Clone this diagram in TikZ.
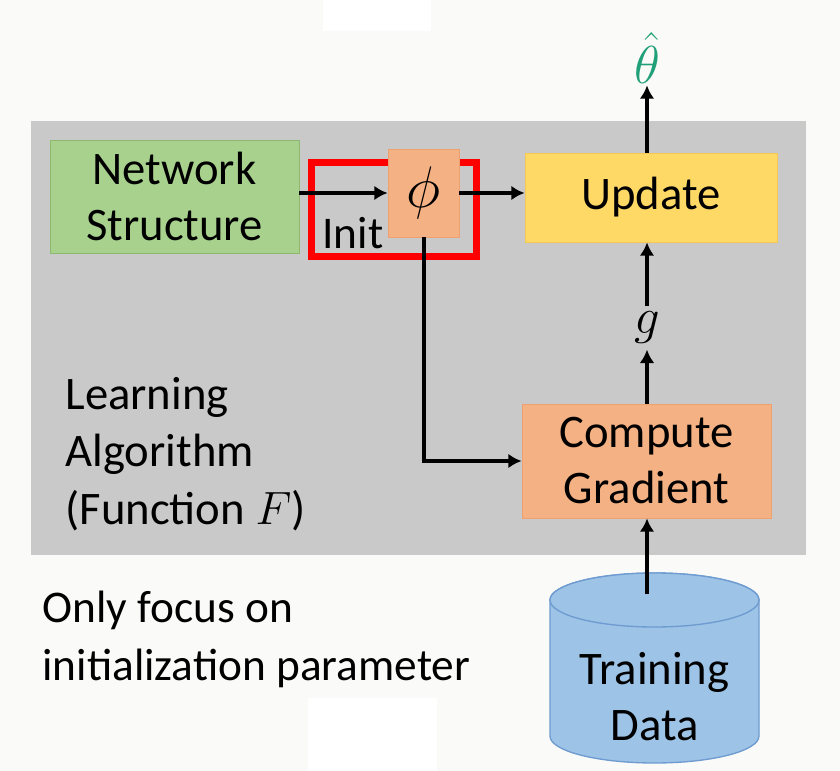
\RequirePackage{fix-cm}
\documentclass[tikz,border=0pt]{standalone}
\usepackage[no-math]{fontspec}
\setmainfont{Carlito}
\usetikzlibrary{arrows.meta}

\tikzset{every picture/.style={line width=0.75pt}}
\tikzset{
  box/.style={inner sep=0pt, align=center, line width=0.6pt, font=\fontsize{35}{42}\selectfont},
  greenbox/.style={box, fill={rgb, 255:red, 169; green, 209; blue, 142}, draw={rgb, 255:red, 140; green, 185; blue, 110}},
  orangebox/.style={box, fill={rgb, 255:red, 244; green, 177; blue, 131}, draw={rgb, 255:red, 238; green, 160; blue, 110}},
  yellowbox/.style={box, fill={rgb, 255:red, 255; green, 217; blue, 102}, draw={rgb, 255:red, 245; green, 200; blue, 85}},
  dbshape/.style={fill={rgb, 255:red, 157; green, 195; blue, 230}, draw={rgb, 255:red, 110; green, 155; blue, 208}, line width=1pt},
  plain/.style={inner sep=0pt, align=left, font=\fontsize{34}{43}\selectfont},
  flow/.style={line width=3pt, -{Latex[length=10pt,width=11pt]}},
  initframe/.style={draw={rgb, 255:red, 255; green, 0; blue, 0}, line width=5.25pt},
}

\begin{document}
\begin{tikzpicture}[x=0.75pt,y=0.75pt,yscale=-1,xscale=1]
        %Page
        \fill [fill={rgb, 255:red, 250; green, 250; blue, 249}] (0,0) rectangle (840,771) ;
        \fill [white] (323,0) rectangle (431,31) ;
        \fill [white] (308,698) rectangle (437,771) ;
        \useasboundingbox (0,0) rectangle (840,771) ;

        %Shape: Rectangle [learning algorithm panel]
        \fill [fill={rgb, 255:red, 201; green, 201; blue, 201}] (31,121) rectangle (806,555) ;
        %Shape: Rectangle [init frame]
        \draw [initframe] (311,162) rectangle (476,256) ;

        % Boxes
        \node [greenbox, minimum width=186.75pt, minimum height=84.75pt] (net) at (174.5,196.5) {Network\\Structure};
        \node [orangebox, minimum width=53.25pt, minimum height=66pt, font=\fontsize{44}{50}\selectfont] (phi) at (423.5,193) {$\phi$};
        \node [yellowbox, minimum width=189pt, minimum height=66.75pt] (upd) at (651,197.5) {Update};
        \node [orangebox, minimum width=186.75pt, minimum height=85.5pt] (grad) at (646.5,461) {Compute\\Gradient};

        %Shape: Can [training data]
        \draw [dbshape] (550,600) -- (550,736) arc (180:0:104.5 and 27) -- (759,600) arc (0:-180:104.5 and 27) -- cycle ;
        \draw [dbshape] (654.5,600) ellipse (104.5 and 27) ;
        \node [box] (data) at (654.5,697) {Training\\Data};
        \coordinate (dtop) at (647,594) ;

        % Text Node
        \node [plain, anchor=north west, font=\fontsize{35}{43}\selectfont] (algo) at (65,377) {Learning\\Algorithm\\(Function $F$)};
        % Text Node
        \node [plain, anchor=base west] (init) at (322,248) {Init};
        % Text Node
        \node [inner sep=1pt, font=\fontsize{40}{46}\selectfont, text={rgb, 255:red, 32; green, 160; blue, 120}] (theta) at (647,58) {$\hat{\theta}$};
        % Text Node
        \node [inner sep=4pt, font=\fontsize{38}{44}\selectfont] (g) at (647,328) {$g$};
        % Text Node
        \node [plain, anchor=north west] (note) at (42,591) {Only focus on\\initialization parameter};

        % Connectors
        \draw [flow] (net.east |- phi.west) -- (phi.west) ;
        \draw [flow] (phi.east) -- (phi.east -| upd.west) ;
        \draw [flow] (phi.south) |- (grad.west) ;
        \draw [flow] (grad.north -| g) -- (g) ;
        \draw [flow] (g) -- (g |- upd.south) ;
        \draw [flow] (g |- upd.north) -- (theta) ;
        \draw [flow] (dtop) -- (dtop |- grad.south) ;

\end{tikzpicture}
\end{document}
